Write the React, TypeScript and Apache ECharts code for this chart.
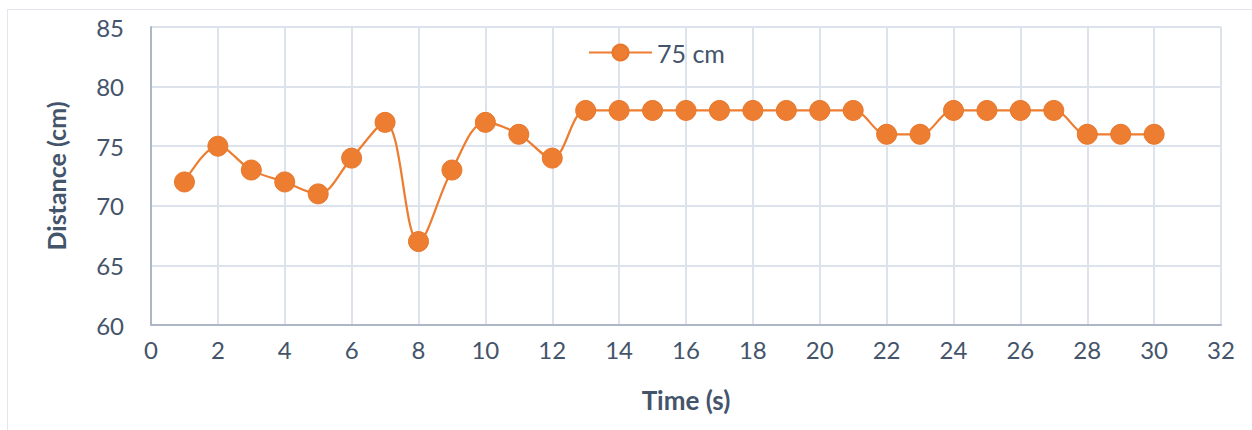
import React, { useEffect, useRef } from "react";
import * as echarts from "echarts";

const timeSeconds = [1,2,3,4,5,6,7,8,9,10,11,12,13,14,15,16,17,18,19,20,21,22,23,24,25,26,27,28,29,30];
const distance75 = [72,75,73,72,71,74,77,67,73,77,76,74,78,78,78,78,78,78,78,78,78,76,76,78,78,78,78,76,76,76];
const seriesName = "75 cm";
const xAxisTitle = "Time (s)";
const yAxisTitle = "Distance (cm)";

const TEXT = "#44546a";
const ORANGE = "#ed7d31";
const FONT = "Lato, 'Open Sans', sans-serif";

export default function App() {
  const ref = useRef<HTMLDivElement>(null);
  useEffect(() => {
    document.body.style.margin = "0";
    const chart = echarts.init(ref.current!, undefined, { renderer: "svg" });
    chart.setOption({
      animation: false,
      backgroundColor: "#ffffff",
      textStyle: { fontFamily: FONT },
      graphic: [
        { type: "line", shape: { x1: 7, y1: 9.5, x2: 1252, y2: 9.5 }, style: { stroke: "#e3e6ea", lineWidth: 1 } },
        { type: "line", shape: { x1: 7.5, y1: 9, x2: 7.5, y2: 430 }, style: { stroke: "#e3e6ea", lineWidth: 1 } },
      ],
      legend: {
        left: 588,
        top: 40,
        itemWidth: 63,
        itemHeight: 20,
        itemGap: 6,
        padding: 0,
        textStyle: { color: TEXT, fontSize: 25, fontFamily: FONT },
        data: [seriesName],
      },
      grid: { left: 151, right: 31, top: 27, bottom: 105, containLabel: false },
      xAxis: {
        type: "value",
        min: 0,
        max: 32,
        interval: 2,
        name: xAxisTitle,
        nameLocation: "middle",
        nameGap: 62,
        nameTextStyle: { color: TEXT, fontSize: 26, fontWeight: "bold", fontFamily: FONT },
        axisLine: { show: true, lineStyle: { color: "#adb5c6", width: 2 } },
        axisTick: { show: false },
        axisLabel: { color: TEXT, fontSize: 24, margin: 12, fontFamily: FONT },
        splitLine: { show: true, lineStyle: { color: "#dde3ec", width: 2 } },
      },
      yAxis: {
        type: "value",
        min: 60,
        max: 85,
        interval: 5,
        name: yAxisTitle,
        nameLocation: "middle",
        nameGap: 83,
        nameTextStyle: { color: TEXT, fontSize: 25, fontWeight: "bold", fontFamily: FONT },
        axisLine: { show: true, lineStyle: { color: "#adb5c6", width: 2 } },
        axisTick: { show: false },
        axisLabel: { color: TEXT, fontSize: 24, margin: 27, fontFamily: FONT },
        splitLine: { show: true, lineStyle: { color: "#dde3ec", width: 2 } },
      },
      series: [
        {
          name: seriesName,
          type: "line",
          data: timeSeconds.map((t, i) => [t, distance75[i]]),
          smooth: 0.35,
          symbol: "circle",
          symbolSize: 20,
          lineStyle: { color: ORANGE, width: 2.25 },
          itemStyle: { color: ORANGE, borderColor: "#e8772b", borderWidth: 1 },
        },
      ],
    });
    return () => chart.dispose();
  }, []);
  return <div ref={ref} style={{ position: "absolute", left: 0, top: 0, width: 1252, height: 430 }} />;
}
